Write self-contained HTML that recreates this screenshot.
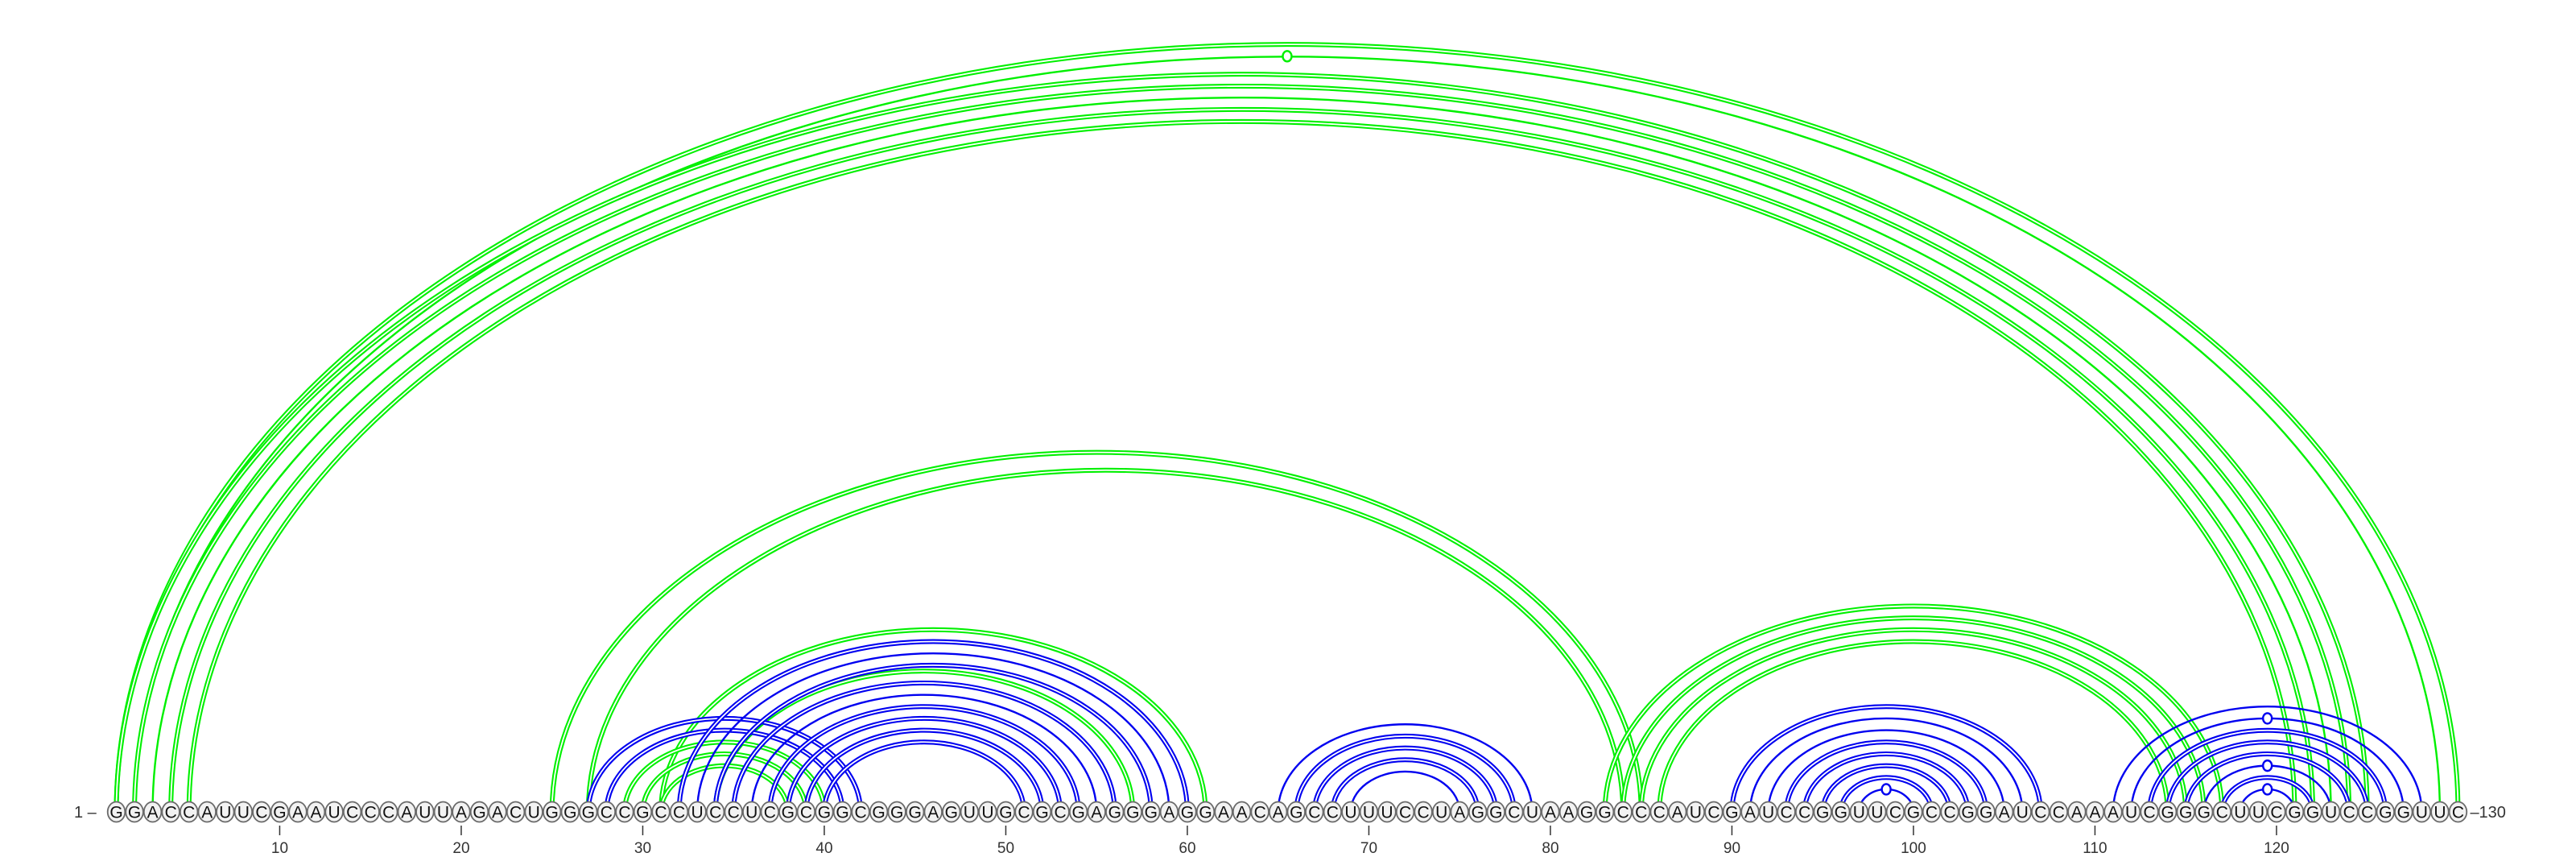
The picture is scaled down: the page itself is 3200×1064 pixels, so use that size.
<!DOCTYPE html>
<html><head><meta charset="utf-8">
<style>
html,body{margin:0;padding:0;background:#fff;}
svg{display:block;}
text{font-family:"Liberation Sans",sans-serif;}
</style></head>
<body>
<svg id="chart" width="3200" height="1064" viewBox="0 0 3200 1064" xmlns="http://www.w3.org/2000/svg">
<g id="arcs"></g>
<g id="nts"></g>
</svg>
<script>
const sequence = "GGACCAUUCGAAUCCCAUUAGACUGGGCCGCCUCCUCGCGGCGGGAGUUGCGCGAGGGAGGAACAGCCUUUCCUAGGCUAAGGCCCAUCGAUCCGGUUCGCCGGAUCCAAAUCGGGCUUCGGUCCGGUUC";
const greenPairs = [[1,130],[2,129],[1,125],[2,124],[3,123],[4,122],[5,121],[25,85],[27,84],[31,61],[34,57],[29,40],[30,39],[31,38],[83,117],[84,116],[85,115],[86,114]];
const bluePairs = [[27,42],[28,41],[32,60],[33,59],[34,58],[35,56],[36,55],[37,54],[38,53],[39,52],[40,51],[65,79],[66,78],[67,77],[68,76],[69,75],[90,107],[91,106],[92,105],[93,104],[94,103],[95,102],[96,101],[97,100],[111,128],[112,127],[113,126],[114,125],[115,124],[116,123],[117,122],[118,121]];
const tickLabels = [10,20,30,40,50,60,70,80,90,100,110,120];

const NS = "http://www.w3.org/2000/svg";
const X0 = 144.5, DX = 22.55, BASE = 1008;
function xOf(n){ return X0 + (n-1)*DX; }
function pairType(a,b){
  const s = [sequence[a-1], sequence[b-1]].sort().join('');
  if (s === 'CG') return 'gc';
  if (s === 'GU') return 'gu';
  return 'au';
}
const arcsG = document.getElementById('arcs');
const ntsG = document.getElementById('nts');

function drawPair(p, color, prefix){
  const [a,b] = p;
  const x1 = xOf(a), x2 = xOf(b);
  const rx = (x2-x1)/2, ry = 0.651*rx + 6;
  const d = `M ${x1} ${BASE} A ${rx} ${ry} 0 0 1 ${x2} ${BASE}`;
  const t = pairType(a,b);
  const g = document.createElementNS(NS,'g');
  
  
  if (t === 'gc'){
    const p1 = document.createElementNS(NS,'path');
    p1.setAttribute('d', d); p1.setAttribute('fill','none');
    p1.setAttribute('stroke', color); p1.setAttribute('stroke-width','6');
    const p2 = document.createElementNS(NS,'path');
    p2.setAttribute('d', d); p2.setAttribute('fill','none');
    p2.setAttribute('stroke', '#ffffff'); p2.setAttribute('stroke-width','1.8');
    g.appendChild(p1); g.appendChild(p2);
  } else {
    const p1 = document.createElementNS(NS,'path');
    p1.setAttribute('d', d); p1.setAttribute('fill','none');
    p1.setAttribute('stroke', color); p1.setAttribute('stroke-width','2.4');
    g.appendChild(p1);
    if (t === 'gu'){
      const m = document.createElementNS(NS,'ellipse');
      
      
      m.setAttribute('cx', (x1+x2)/2); m.setAttribute('cy', BASE - ry);
      m.setAttribute('rx', 5.5); m.setAttribute('ry', 6.5);
      m.setAttribute('fill','#fff'); m.setAttribute('stroke', color); m.setAttribute('stroke-width','2.4');
      g.appendChild(m);
    }
  }
  arcsG.appendChild(g);
}
greenPairs.forEach(p => drawPair(p, '#00f000', 'green'));
bluePairs.forEach(p => drawPair(p, '#0000f0', 'blue'));

for (let i = 1; i <= sequence.length; i++){
  const g = document.createElementNS(NS,'g');
  
  
  const e = document.createElementNS(NS,'ellipse');
  e.setAttribute('cx', xOf(i)); e.setAttribute('cy', BASE);
  e.setAttribute('rx', 10.8); e.setAttribute('ry', 12.5);
  e.setAttribute('fill', '#f2f2f2'); e.setAttribute('stroke', '#6a6a6a'); e.setAttribute('stroke-width', '1.8');
  const t = document.createElementNS(NS,'text');
  t.setAttribute('x', xOf(i)); t.setAttribute('y', BASE + 7.5);
  t.setAttribute('text-anchor','middle'); t.setAttribute('font-size','21');
  t.setAttribute('fill','#111');
  t.textContent = sequence[i-1];
  g.appendChild(e); g.appendChild(t);
  ntsG.appendChild(g);
}
tickLabels.forEach(n => {
  const g = document.createElementNS(NS,'g');
  
  
  const l = document.createElementNS(NS,'line');
  l.setAttribute('x1', xOf(n)); l.setAttribute('x2', xOf(n));
  l.setAttribute('y1', 1025); l.setAttribute('y2', 1037);
  l.setAttribute('stroke', '#333'); l.setAttribute('stroke-width', '1.5');
  const t = document.createElementNS(NS,'text');
  t.setAttribute('x', xOf(n)); t.setAttribute('y', 1059);
  t.setAttribute('text-anchor','middle'); t.setAttribute('font-size','19'); t.setAttribute('fill','#333');
  t.textContent = n;
  g.appendChild(l); g.appendChild(t);
  ntsG.appendChild(g);
});
// end labels
const startLbl = document.createElementNS(NS,'text');


startLbl.setAttribute('x', 92); startLbl.setAttribute('y', 1015);
startLbl.setAttribute('font-size','20'); startLbl.setAttribute('fill','#333');
startLbl.textContent = '1 \u2013';
ntsG.appendChild(startLbl);
const endLbl = document.createElementNS(NS,'text');


endLbl.setAttribute('x', xOf(sequence.length) + 15); endLbl.setAttribute('y', 1015);
endLbl.setAttribute('font-size','20'); endLbl.setAttribute('fill','#333');
endLbl.textContent = '\u2013130';
ntsG.appendChild(endLbl);
</script>
</body></html>
